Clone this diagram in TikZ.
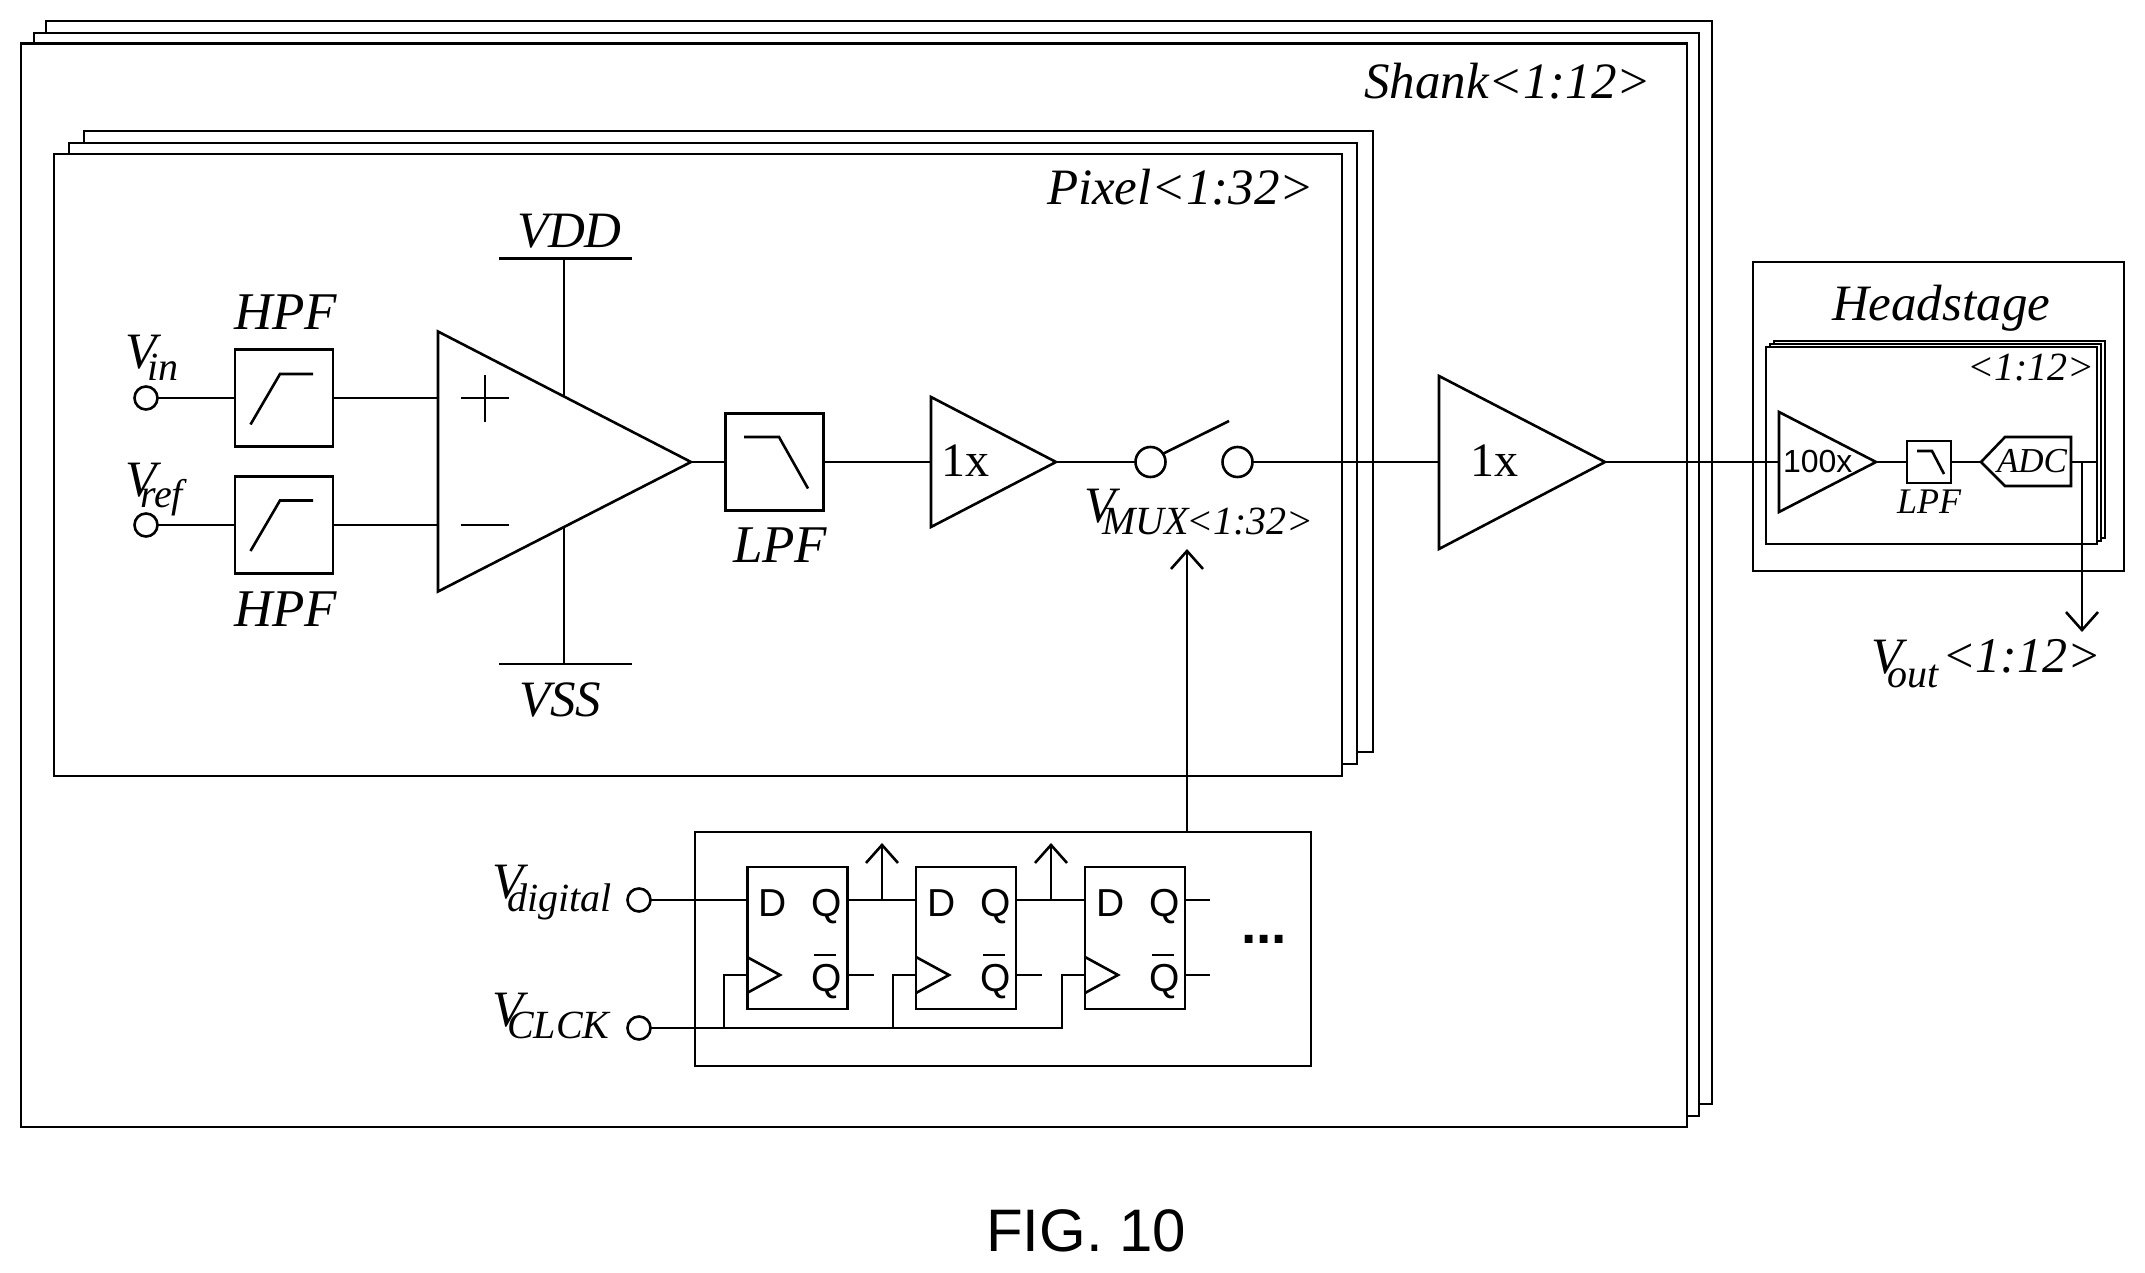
\documentclass[tikz,border=0pt]{standalone}
\usepackage{fontspec}
\setmainfont{Liberation Serif}
\newfontfamily\sansfig{Liberation Sans}
\usetikzlibrary{arrows.meta}

\newcommand{\fsz}[1]{\fontsize{#1}{#1}\selectfont}
\newcommand{\vsub}[3]{V\kern#1pt\raisebox{#2pt}{\fsz{40}#3}}
\newcommand{\qbar}{\rlap{\kern3pt\raisebox{35pt}{\rule{22pt}{2pt}}}Q}

\tikzset{
  txt/.style={inner sep=0pt,outer sep=0pt,anchor=base west,font=\fsz{51}\itshape},
  volt/.style={txt,font=\fsz{51}\itshape},
  filtname/.style={txt,font=\fsz{53}\itshape},
  gain/.style={txt,font=\fsz{48}},
  pinname/.style={txt,font=\fsz{39}\sansfig},
  filt/.style={draw,fill=white,inner sep=0pt,outer sep=0pt,minimum width=98pt,minimum height=97pt},
  port/.style={draw,fill=white,circle,inner sep=0pt,outer sep=0pt,minimum size=23pt},
  ff/.style={draw,fill=white,inner sep=0pt,outer sep=0pt,minimum width=100pt,minimum height=142pt},
  card/.style={draw,fill=white},
}

\begin{document}
\begin{tikzpicture}[x=1pt,y=-1pt,line width=2.6pt,>={Straight Barb[length=18pt,width=32pt]}]
\useasboundingbox (0,0) rectangle (2145,1273);

% shank stack
\draw[card] (46,21) rectangle (1712,1104);
\draw[card] (34,33) rectangle (1699,1116);
\draw[card] (21,43.5) rectangle (1687,1127);
\node[txt] (shank) at (1364,99) {Shank<1:12>};

% pixel stack
\draw[card] (84,131) rectangle (1373,752);
\draw[card] (69,143) rectangle (1357,764);
\draw[card] (54,154) rectangle (1342,776);
\node[txt] (pixel) at (1047,205) {Pixel<1:32>};

% inputs and high pass filters
\node[port] (vin) at (146,398) {};
\node[port] (vref) at (146,525) {};
\node[volt] (vinlbl) at (125,369) {\vsub{-9}{-11}{in}};
\node[volt] (vreflbl) at (125,496) {\vsub{-16}{-11}{ref}};
\node[filt] (hpfa) at (284,398) {};
\node[filt] (hpfb) at (284,525) {};
\node[filtname] (hpfalbl) at (234,330) {HPF};
\node[filtname] (hpfblbl) at (234,626) {HPF};
\draw (250.5,424.5) -- (280,374) -- (313,374);
\draw (250.5,551) -- (280,500.5) -- (313,500.5);
\draw (vin) -- (hpfa);
\draw (vref) -- (hpfb);

% amplifier
\coordinate (ampt) at (438,331.5);
\coordinate (ampb) at (438,591.5);
\coordinate (ampo) at (691,462);
\coordinate (ampp) at (438,398);
\coordinate (ampm) at (438,525);
\coordinate (ampv) at (564,396);
\coordinate (amps) at (564,527);
\coordinate (vddw) at (564,258.5);
\coordinate (vssw) at (564,664);
\draw (ampt) -- (ampo) -- (ampb) -- cycle;
\draw (hpfa) -- (ampp);
\draw (hpfb) -- (ampm);
\draw (461,398) -- (509,398);
\draw (485,375) -- (485,422);
\draw (461,525) -- (509,525);
\draw (ampv) -- (vddw);
\draw (amps) -- (vssw);
\draw (499,258.5) -- (632,258.5);
\draw (499,664) -- (632,664);
\node[volt] (vdd) at (517,248) {VDD};
\node[volt] (vss) at (519,716) {VSS};

% low pass filter
\node[filt] (lpf) at (774.5,462) {};
\node[filtname] (lpflbl) at (733,562) {LPF};
\draw (744,437) -- (779,437) -- (808,488.5);
\draw (ampo) -- (lpf);

% buffer and switch
\coordinate (bufi) at (931,462);
\coordinate (bufo) at (1056,462);
\draw (931,397) -- (bufo) -- (931,527) -- cycle;
\node[gain] (bufgain) at (941,476) {1x};
\node[port,minimum size=30pt] (swa) at (1150.5,462) {};
\node[port,minimum size=30pt] (swb) at (1237.5,462) {};
\coordinate (swarm) at (1229,421);
\draw (lpf) -- (bufi);
\draw (bufo) -- (swa);
\draw (swa) ++(12,-8) -- (swarm);
\node[volt] (vmux) at (1084,522) {\vsub{-13}{-12}{MUX}\kern-2.5pt\raisebox{-12pt}{\fsz{40}<1:32>}};

% output buffer
\coordinate (drvi) at (1439,462);
\coordinate (drvo) at (1605,462);
\draw (1439,376) -- (drvo) -- (1439,549) -- cycle;
\node[gain] (drvgain) at (1470,476) {1x};
\draw (swb) -- (drvi);

% digital block
\node[draw,inner sep=0pt,outer sep=0pt,minimum width=616pt,minimum height=234pt] (dig) at (1003,949) {};
\node[port] (vdig) at (639,900) {};
\node[port] (vclk) at (639,1028) {};
\node[volt] (vdiglbl) at (492,898) {\vsub{-16}{-13}{digital}};
\node[volt] (vclklbl) at (492,1026) {\vsub{-16}{-12}{CLCK}};
\node[ff] (ffa) at (797.5,938) {};
\node[ff] (ffb) at (966,938) {};
\node[ff] (ffc) at (1135,938) {};
\node[pinname] (ffad) at (758,916) {D};
\node[pinname] (ffaq) at (811,916) {Q};
\node[pinname] (ffaqb) at (811,991) {\qbar};
\node[pinname] (ffbd) at (927,916) {D};
\node[pinname] (ffbq) at (980,916) {Q};
\node[pinname] (ffbqb) at (980,991) {\qbar};
\node[pinname] (ffcd) at (1096,916) {D};
\node[pinname] (ffcq) at (1149,916) {Q};
\node[pinname] (ffcqb) at (1149,991) {\qbar};
\draw (747,957) -- (780,975) -- (747,993);
\draw (916,957) -- (949,975) -- (916,993);
\draw (1085,957) -- (1118,975) -- (1085,993);
\node[txt,font=\fsz{55}\sansfig\bfseries] (dots) at (1241,943) {...};

% digital wiring
\coordinate (taba) at (882,900);
\coordinate (tabb) at (1051,900);
\coordinate (tabat) at (882,843);
\coordinate (tabbt) at (1051,843);
\coordinate (clka) at (724,1028);
\coordinate (clkb) at (893,1028);
\coordinate (clkc) at (1062,1028);
\draw (vdig) -- (ffa.west |- vdig);
\draw (ffa.east |- vdig) -- (ffb.west |- vdig);
\draw (ffb.east |- vdig) -- (ffc.west |- vdig);
\draw (ffc.east |- vdig) -- (1210,900);
\draw[->] (taba) -- (tabat);
\draw[->] (tabb) -- (tabbt);
\draw (ffa.east |- 0,975) -- (874,975);
\draw (ffb.east |- 0,975) -- (1042,975);
\draw (ffc.east |- 0,975) -- (1210,975);
\draw (vclk) -- (clkc) -- (1062,975) -- (ffc.west |- 0,975);
\draw (clka) -- (724,975) -- (ffa.west |- 0,975);
\draw (clkb) -- (893,975) -- (ffb.west |- 0,975);
\coordinate (muxt) at (1187,549);
\draw[->] (dig.north -| muxt) -- (muxt);

% headstage
\draw[card] (1753,262) rectangle (2124,571);
\node[txt] (head) at (1832,321) {Headstage};
\draw[card] (1774,341) rectangle (2105,538);
\draw[card] (1770,344) rectangle (2101,541);
\draw[card] (1766,347) rectangle (2097,544);
\node[txt,font=\fsz{40}\itshape] (headn) at (1967,380) {<1:12>};
\coordinate (pre) at (1779,462);
\coordinate (preo) at (1876,462);
\draw (1779,412) -- (preo) -- (1779,512) -- cycle;
\node[txt,font=\fsz{32}\sansfig] (pregain) at (1783,472) {100x};
\draw (drvo) -- (pre);
\node[filt,minimum width=44pt,minimum height=42pt] (hlpf) at (1929,462) {};
\node[txt,font=\fsz{36}\itshape] (hlpflbl) at (1897,513) {LPF};
\draw (1917,451) -- (1932,451) -- (1944,474);
\draw (preo) -- (hlpf);
\coordinate (adci) at (1981,462);
\coordinate (adco) at (2071,462);
\draw (adci) -- (2005,437) -- (2071,437) -- (2071,486) -- (2005,486) -- cycle;
\node[txt,font=\fsz{35}\itshape] (adc) at (1997,472) {ADC};
\draw (hlpf) -- (adci);
\coordinate (stk) at (2097,462);
\coordinate (tap) at (2082,462);
\coordinate (vouttip) at (2082,632);
\draw (adco) -- (stk);
\draw[->] (tap) -- (vouttip);
\node[volt] (vout) at (1871,673) {\vsub{-15}{-14}{out}};
\node[txt,font=\fsz{50}\itshape] (voutn) at (1942,672) {<1:12>};

\node[txt,font=\fsz{60}\sansfig] (fig) at (986,1251) {FIG. 10};
\end{tikzpicture}
\end{document}
